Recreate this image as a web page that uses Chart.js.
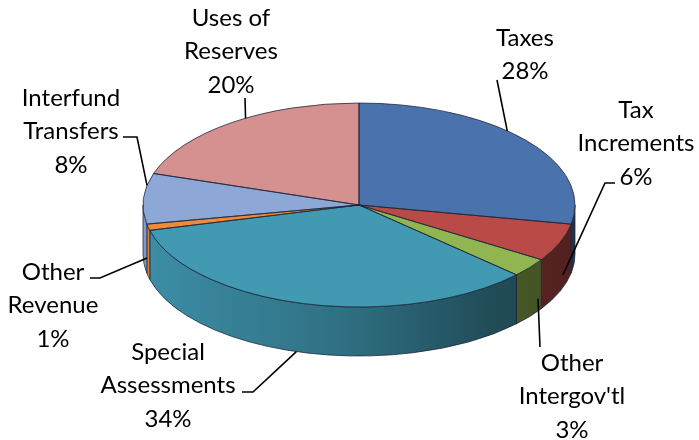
<!DOCTYPE html>
<html>
<head>
<meta charset="utf-8">
<title>Revenue Sources</title>
<script src="https://cdn.jsdelivr.net/npm/chart.js@4.4.1/dist/chart.umd.min.js"></script>
<style>
  html, body { margin: 0; padding: 0; background: #fff; }
  #pie { display: block; }
</style>
</head>
<body>
<canvas id="pie" width="699" height="440"></canvas>
<script>
'use strict';

/* ── data ─────────────────────────────────────── */
const CATEGORIES = ['Taxes', 'Tax Increments', "Other Intergov'tl", 'Special Assessments',
                    'Other Revenue', 'Interfund Transfers', 'Uses of Reserves'];
const SHARES = [28, 6, 3, 34, 1, 8, 20];
const LABEL_LINES = [['Taxes'], ['Tax', 'Increments'], ['Other', "Intergov'tl"], ['Special', 'Assessments'],
                     ['Other', 'Revenue'], ['Interfund', 'Transfers'], ['Uses of', 'Reserves']];

/* ── look ─────────────────────────────────────── */
const COLORS = ['#4A72AC', '#B94A47', '#91B550', '#4199B2', '#EE8A3A', '#8DA7D6', '#D49190'];
const EDGE   = 'rgba(25,35,55,0.75)';
const TILT   = 102 / 216;   // vertical squash of the disc
const TOP_Y  = 205;         // screen y of the top face centre
const DEPTH  = 49;          // thickness of the disc
const FONT   = '24px Lato, "Open Sans", sans-serif';
const LINE_H = 33.5;

// label block: centre x, first line y, where on the slice the leader lands
// (fraction along the slice, fraction down the side), and the bent part of the leader
const LABEL_POS = [
  { x: 525, y: 38,  at: 0.43, down: 0,    leader: [[497, 80]] },
  { x: 636, y: 110, at: 0.39, down: 0.74, leader: [[615, 183], [605, 183]] },
  { x: 572, y: 363, at: 0.15, down: 0.75, leader: [[540, 347]] },
  { x: 168, y: 352, at: 0.52, down: 1.0,  leader: [[242, 392], [253, 392]] },
  { x: 53,  y: 272, at: 0.9,  down: 0.68, leader: [[90, 278], [100, 278]] },
  { x: 71,  y: 98,  at: 0.76, down: 0,    leader: [[123, 137], [137, 137]] },
  { x: 231, y: 18,  at: 0.56, down: 0,    leader: [[245, 98]] },
];

function shade(hex, f) {
  const n = parseInt(hex.slice(1), 16);
  const c = [(n >> 16) & 255, (n >> 8) & 255, n & 255].map(v => Math.round(v * f));
  return `rgb(${c[0]},${c[1]},${c[2]})`;
}

function tilt(ctx, a) {
  ctx.translate(a.x, TOP_Y);
  ctx.scale(1, TILT);
  ctx.translate(-a.x, -a.y);
}

function arcsOf(chart) {
  return chart.getDatasetMeta(0).data.map(el =>
    el.getProps(['x', 'y', 'startAngle', 'endAngle', 'outerRadius'], true));
}

/* ── 3D disc: side walls underneath, squash the top face ── */
const disc3d = {
  id: 'disc3d',
  beforeDatasetsDraw(chart) {
    const ctx = chart.ctx;
    arcsOf(chart).forEach((a, i) => {
      const s = Math.max(a.startAngle, 0);
      const e = Math.min(a.endAngle, Math.PI);
      if (s >= e) return;
      const r = a.outerRadius;
      ctx.save();
      tilt(ctx, a);
      ctx.beginPath();
      ctx.arc(a.x, a.y, r, s, e);
      ctx.arc(a.x, a.y + DEPTH / TILT, r, e, s, true);
      ctx.closePath();
      ctx.restore();
      const g = ctx.createLinearGradient(a.x - r, 0, a.x + r, 0);
      g.addColorStop(0,    shade(COLORS[i], 0.93));
      g.addColorStop(0.45, shade(COLORS[i], 0.74));
      g.addColorStop(0.8,  shade(COLORS[i], 0.5));
      g.addColorStop(1,    shade(COLORS[i], 0.44));
      ctx.fillStyle = g;
      ctx.fill();
      ctx.strokeStyle = EDGE;
      ctx.lineWidth = 1;
      ctx.stroke();
    });
    const a0 = arcsOf(chart)[0];
    ctx.save();
    tilt(ctx, a0);
  },
  afterDatasetsDraw(chart) {
    const ctx = chart.ctx;
    ctx.restore();
    // slice outlines on the top face, kept at an even 1px
    arcsOf(chart).forEach(a => {
      ctx.save();
      tilt(ctx, a);
      ctx.beginPath();
      ctx.moveTo(a.x, a.y);
      ctx.arc(a.x, a.y, a.outerRadius, a.startAngle, a.endAngle);
      ctx.closePath();
      ctx.restore();
      ctx.strokeStyle = EDGE;
      ctx.lineWidth = 1;
      ctx.stroke();
    });
  },
  afterDraw(chart) {
    const ctx = chart.ctx;
    const arcs = arcsOf(chart);
    ctx.save();
    ctx.font = FONT;
    ctx.fillStyle = '#000';
    ctx.textAlign = 'center';
    ctx.textBaseline = 'middle';
    LABEL_POS.forEach((p, i) => {
      const a = arcs[i];
      const ang = a.startAngle + p.at * (a.endAngle - a.startAngle);
      const ex = a.x + a.outerRadius * Math.cos(ang);
      const ey = TOP_Y + a.outerRadius * TILT * Math.sin(ang) + p.down * DEPTH;
      ctx.strokeStyle = '#000';
      ctx.lineWidth = 1.6;
      ctx.beginPath();
      p.leader.forEach(([lx, ly], k) => k ? ctx.lineTo(lx, ly) : ctx.moveTo(lx, ly));
      ctx.lineTo(ex, ey);
      ctx.stroke();

      const lines = [...LABEL_LINES[i], `${SHARES[i]}%`];
      lines.forEach((t, k) => ctx.fillText(t, p.x, p.y + k * LINE_H));
    });
    ctx.restore();
  },
};

new Chart(document.getElementById('pie'), {
  type: 'pie',
  data: {
    labels: CATEGORIES,
    datasets: [{ data: SHARES, backgroundColor: COLORS, borderWidth: 0 }],
  },
  options: {
    responsive: false,
    animation: false,
    events: [],
    layout: { padding: { left: 143, right: 124, top: 0, bottom: 0 } },
    plugins: { legend: { display: false }, tooltip: { enabled: false } },
  },
  plugins: [disc3d],
});
</script>
</body>
</html>
